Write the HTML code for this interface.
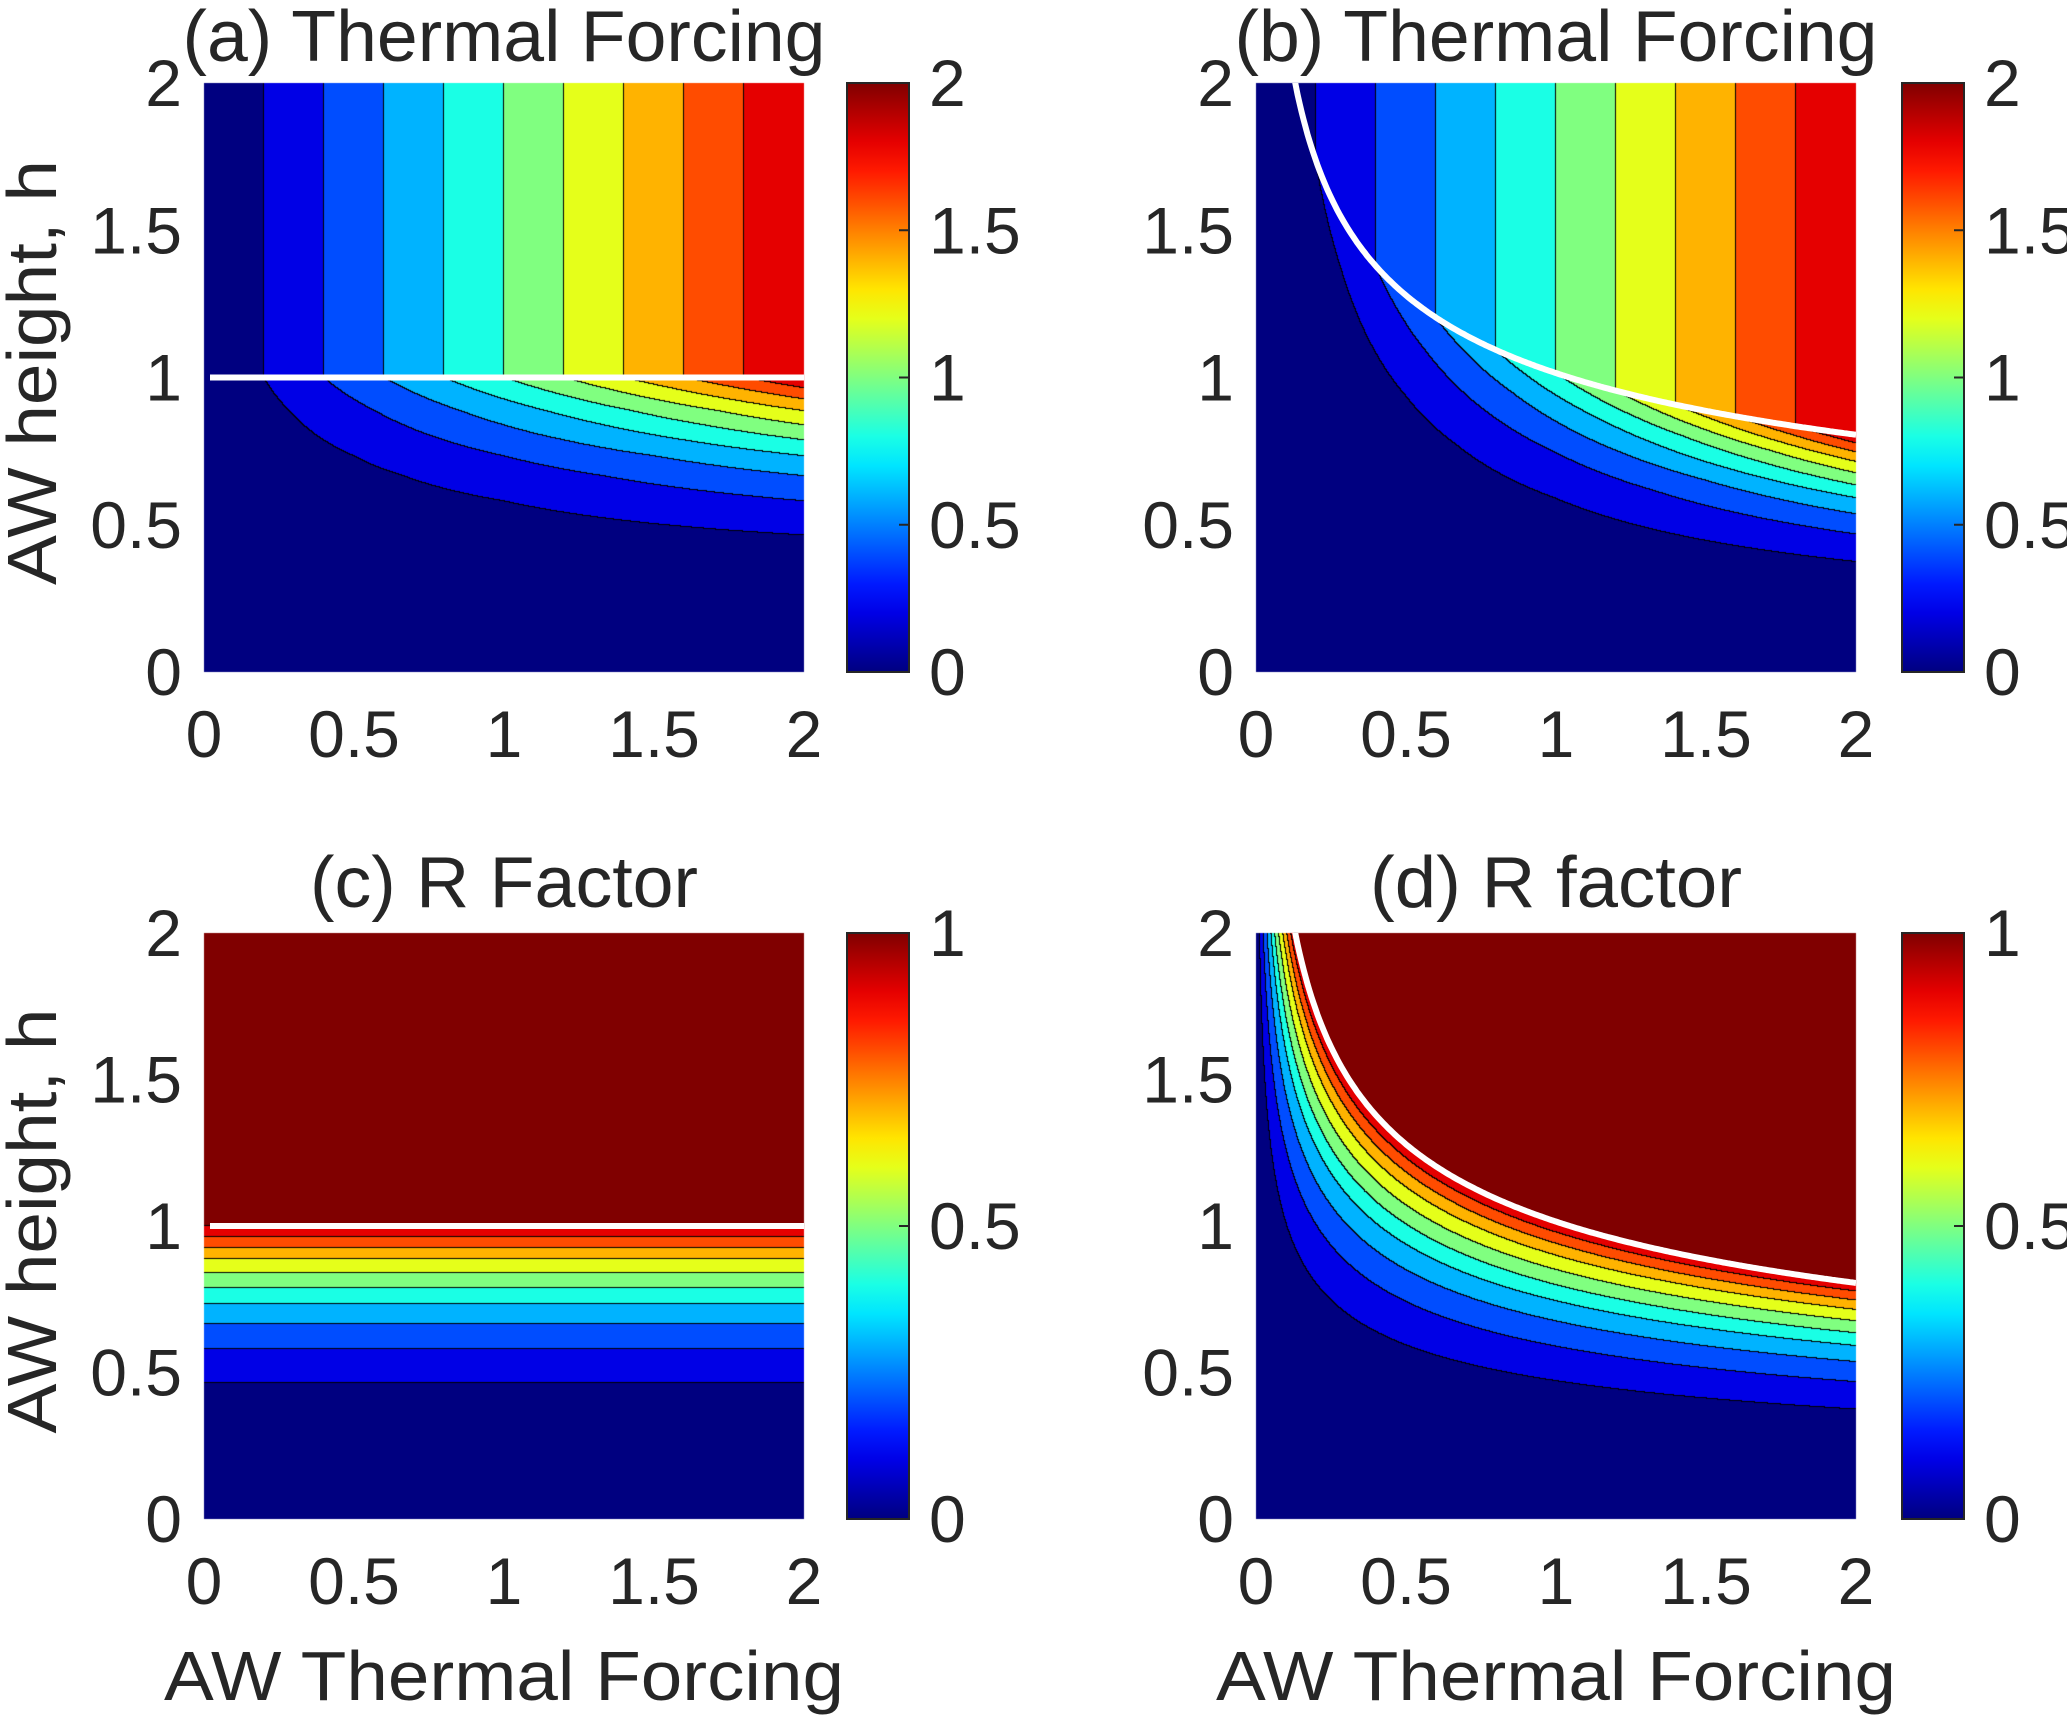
<!DOCTYPE html>
<html><head><meta charset="utf-8"><style>
html,body{margin:0;padding:0;background:#fff;}
#wrap{position:relative;width:2067px;height:1718px;overflow:hidden;}
canvas,svg{position:absolute;left:0;top:0;}
text{font-family:"Liberation Sans",sans-serif;fill:#262626;}
</style></head><body>
<div id="wrap">
<canvas id="cv" width="2067" height="1718"></canvas>
<svg id="sv" width="2067" height="1718" xmlns="http://www.w3.org/2000/svg"></svg>
</div>
<script>
// ---- data ----
const rLevels = [0.1,0.2,0.3,0.4,0.5,0.6,0.7,0.8,0.9];
const rLevelHeights = [0.464,0.58,0.665,0.733,0.787,0.838,0.886,0.926,0.964]; // normalized h/hc where R reaches each level
const hcCoef = 1.015;   // critical height curve hc = coef * x^exp (panels b,d)
const hcExp = -1/3;
const axisTicks = [0,0.5,1,1.5,2];
const axisTickLabels = ["0","0.5","1","1.5","2"];
const cbTicksTF = [0,0.5,1,1.5,2];
const cbTickLabelsTF = ["0","0.5","1","1.5","2"];
const cbTicksR = [0,0.5,1];
const cbTickLabelsR = ["0","0.5","1"];
const titles = ["(a) Thermal Forcing","(b) Thermal Forcing","(c) R Factor","(d) R factor"];
const titleWidths = [643,643,388,372];

const panels = [
 {x0:204,y0:83,w:600,h:589,kind:'TF',curved:false,cb:847,name:'panel-a'},
 {x0:1256,y0:83,w:600,h:589,kind:'TF',curved:true,cb:1902,name:'panel-b'},
 {x0:204,y0:933,w:600,h:586,kind:'R',curved:false,cb:847,name:'panel-c'},
 {x0:1256,y0:933,w:600,h:586,kind:'R',curved:true,cb:1902,name:'panel-d'}
];
function clamp(v){return Math.max(0,Math.min(1,v));}
function jet(t){return [clamp(1.5-Math.abs(4*t-3)),clamp(1.5-Math.abs(4*t-2)),clamp(1.5-Math.abs(4*t-1))].map(v=>Math.round(v*255));}
function hc(x,curved){return curved?hcCoef*Math.pow(Math.max(x,1e-6),hcExp):1;}
function Rcont(u){
  if(u>=1) return 1;
  if(u<rLevelHeights[0]) return rLevels[0]*u/rLevelHeights[0];
  for(let k=0;k<rLevelHeights.length-1;k++){
    if(u<rLevelHeights[k+1]){const f=(u-rLevelHeights[k])/(rLevelHeights[k+1]-rLevelHeights[k]);return rLevels[k]+f*(rLevels[k+1]-rLevels[k]);}
  }
  const n=rLevelHeights.length-1;
  return rLevels[n]+(u-rLevelHeights[n])/(1-rLevelHeights[n])*(1-rLevels[n])*0.999;
}
function band(p,x,h){
  const u=h/hc(x,p.curved);
  const R=Rcont(u);
  if(p.kind==='R'){ return u>=1?10:Math.min(9,Math.floor(R*10+1e-9)); }
  const tf=x*R; return Math.min(9,Math.floor(tf/0.2+1e-9));
}
const cv=document.getElementById('cv'),ctx=cv.getContext('2d');
panels.forEach(p=>{
  const img=ctx.createImageData(p.w,p.h);
  const B=new Int8Array(p.w*p.h);
  for(let j=0;j<p.h;j++){const h=2*(1-(j+0.5)/p.h);
    for(let i=0;i<p.w;i++){const x=2*(i+0.5)/p.w;B[j*p.w+i]=band(p,x,h);}}
  for(let j=0;j<p.h;j++)for(let i=0;i<p.w;i++){
    const b=B[j*p.w+i];let c=jet(b/10);
    const r=i<p.w-1?B[j*p.w+i+1]:b, d=j<p.h-1?B[(j+1)*p.w+i]:b;
    if(r!==b||d!==b) c=[0,0,0];
    const o=(j*p.w+i)*4;img.data[o]=c[0];img.data[o+1]=c[1];img.data[o+2]=c[2];img.data[o+3]=255;}
  ctx.putImageData(img,p.x0,p.y0);
});
// ---- overlay ----
const NS="http://www.w3.org/2000/svg",sv=document.getElementById('sv');
function el(t,a,parent){const e=document.createElementNS(NS,t);for(const k in a)e.setAttribute(k,a[k]);(parent||sv).appendChild(e);return e;}
const defs=el('defs',{});
const grad=el('linearGradient',{id:'jetg',x1:0,y1:1,x2:0,y2:0},defs);
for(let s=0;s<=20;s++){const c=jet(s/20);el('stop',{offset:(s/20),'stop-color':`rgb(${c})`},grad);}
panels.forEach((p,pi)=>{
  const g=el('g',{});
  
  
  const X=v=>p.x0+v/2*p.w, Y=v=>p.y0+p.h-v/2*p.h;
  const clip=el('clipPath',{id:'clip'+pi},defs);
  el('rect',{x:p.x0,y:p.y0,width:p.w,height:p.h},clip);
  // critical curve
  let pts=[];for(let k=0;k<=300;k++){const x=0.02+k/300*1.98;pts.push(X(x).toFixed(1)+','+Y(hc(x,p.curved)).toFixed(1));}
  const wl=el('polyline',{points:pts.join(' '),fill:'none',stroke:'#fff','stroke-width':6,'clip-path':`url(#clip${pi})`},g);
  
  
  // ticks
  axisTicks.forEach((t,k)=>{
    const tx=el('text',{x:X(t),y:p.y0+p.h+85,'font-size':66,'text-anchor':'middle'},g);tx.textContent=axisTickLabels[k];
    
    
    const ty=el('text',{x:p.x0-22,y:Y(t)+23,'font-size':66,'text-anchor':'end'},g);ty.textContent=axisTickLabels[k];
    
    
  });
  const tt=el('text',{x:p.x0+p.w/2,y:p.y0-(pi<2?22:26),'font-size':72,'text-anchor':'middle',textLength:titleWidths[pi],lengthAdjust:'spacingAndGlyphs'},g);tt.textContent=titles[pi];
  
  
  if(pi>=2){const xl=el('text',{x:p.x0+p.w/2,y:1700,'font-size':70,'text-anchor':'middle',textLength:680,lengthAdjust:'spacingAndGlyphs'},g);xl.textContent='AW Thermal Forcing';
    
    }
  if(pi%2===0){const cy=p.y0+p.h/2-5;const yl=el('text',{x:0,y:0,'font-size':70,'text-anchor':'middle',transform:`translate(56,${cy}) rotate(-90)`,textLength:425,lengthAdjust:'spacingAndGlyphs'},g);yl.textContent='AW height, h';
    
    }
  // colorbar
  const cbw=62;
  const cb=el('rect',{x:p.cb,y:p.y0,width:cbw,height:p.h,fill:'url(#jetg)',stroke:'#262626','stroke-width':2},g);
  
  
  const ticks=p.kind==='TF'?cbTicksTF:cbTicksR, labs=p.kind==='TF'?cbTickLabelsTF:cbTickLabelsR, mx=p.kind==='TF'?2:1;
  ticks.forEach((t,k)=>{const yy=p.y0+p.h-t/mx*p.h;
    el('line',{x1:p.cb+cbw-10,x2:p.cb+cbw,y1:yy,y2:yy,stroke:'#262626','stroke-width':2},g);
    const ct=el('text',{x:p.cb+cbw+20,y:yy+23,'font-size':66},g);ct.textContent=labs[k];
    
    });
});
</script>
</body></html>
